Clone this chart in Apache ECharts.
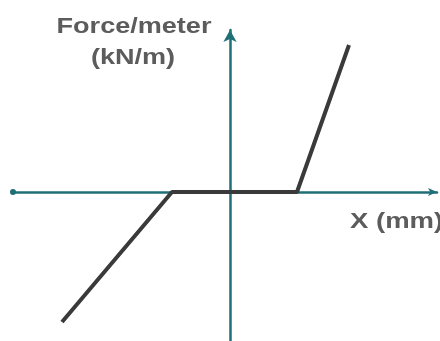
<!DOCTYPE html>
<html>
<head>
<meta charset="utf-8">
<script src="https://cdn.jsdelivr.net/npm/echarts@6/dist/echarts.min.js"></script>
<style>
  html, body { margin: 0; padding: 0; background: #fff; }
  #chart { width: 440px; height: 341px; }
</style>
</head>
<body>
<div id="chart"></div>
<script>
// displacement (mm) vs force per meter (kN/m), schematic units
var xValues = [-16.8, -5.8, 6.7, 11.9];
var yValues = [-13.0, 0, 0, 14.7];
var xRange = [-21.7, 20.7];
var yRange = [-14.9, 16.2];
var yAxisTitle = ['Force/meter', '(kN/m)'];
var xAxisTitle = 'X (mm)';

var chart = echarts.init(document.getElementById('chart'));

var points = [];
for (var i = 0; i < xValues.length; i++) {
	points.push([xValues[i], yValues[i]]);
}

var axisColor = '#1f6f77';
var textColor = '#5c5c5c';
var font = '"Liberation Sans", Arial, sans-serif';

option = {
	animation: false,
	grid: { left: 13, right: 3, top: 30, bottom: 0, containLabel: false },
	xAxis: {
		type: 'value',
		min: xRange[0],
		max: xRange[1],
		axisLine: {
			onZero: true,
			symbol: ['circle', 'arrow'],
			symbolSize: [6, 9],
			lineStyle: { color: axisColor, width: 2.5 }
		},
		axisTick: { show: false },
		axisLabel: { show: false },
		splitLine: { show: false }
	},
	yAxis: {
		type: 'value',
		min: yRange[0],
		max: yRange[1],
		axisLine: {
			onZero: true,
			symbol: ['none', 'arrow'],
			symbolSize: [10, 12],
			lineStyle: { color: axisColor, width: 2.5 }
		},
		axisTick: { show: false },
		axisLabel: { show: false },
		splitLine: { show: false }
	},
	series: [{
		type: 'line',
		data: points,
		symbol: 'none',
		lineStyle: { color: '#3a3a3a', width: 4 }
	}],
	graphic: [
		{
			type: 'text', x: 134, y: 27, scaleX: 1.23,
			style: { text: yAxisTitle[0], x: 0, y: 0, textAlign: 'center', textVerticalAlign: 'middle',
				fill: textColor, font: 'bold 22px ' + font }
		},
		{
			type: 'text', x: 133, y: 58, scaleX: 1.23,
			style: { text: yAxisTitle[1], x: 0, y: 0, textAlign: 'center', textVerticalAlign: 'middle',
				fill: textColor, font: 'bold 22px ' + font }
		},
		{
			type: 'text', x: 350, y: 222, scaleX: 1.25,
			style: { text: xAxisTitle, x: 0, y: 0, textAlign: 'left', textVerticalAlign: 'middle',
				fill: textColor, font: 'bold 22px ' + font }
		}
	]
};

chart.setOption(option);
</script>
</body>
</html>
